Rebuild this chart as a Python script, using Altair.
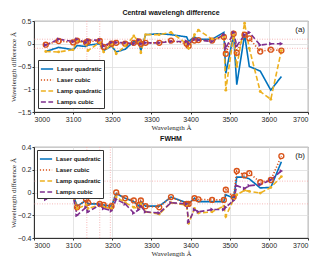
import altair as alt
import pandas as pd

# ---------------- data ----------------
wavelength = [3030, 3063, 3100, 3110, 3133, 3138, 3168, 3178, 3198, 3210, 3233, 3255, 3268, 3273, 3285,
              3320, 3350, 3390, 3395, 3410, 3420, 3455, 3485, 3490, 3510, 3518, 3538, 3550, 3578, 3605, 3632]
series_names = ["Laser quadratic", "Laser cubic", "Lamp quadratic", "Lamps cubic"]

# panel (a): central wavelength difference
a_laser_quadratic = [-0.17, -0.08, -0.13, -0.04, -0.06, -0.03, 0.0, -0.15, -0.05, -0.18, -0.12, 0.05, 0.0, -0.15, 0.2,
                     0.22, 0.2, 0.15, 0.05, 0.15, 0.1, 0.1, 0.25, -0.65, 0.2, -0.9, 0.2, -0.5, -0.6, -1.02, -0.72]
a_laser_cubic = [-0.02, 0.06, 0.03, 0.07, 0.03, 0.05, 0.06, -0.07, 0.0, 0.02, 0.0, 0.02, 0.05, 0.0, 0.02,
                 0.02, 0.07, 0.0, -0.05, 0.07, 0.08, 0.07, 0.15, -0.22, 0.22, -0.2, 0.2, 0.12, -0.17, -0.13, -0.15]
a_lamp_quadratic = [-0.17, -0.18, -0.13, 0.07, 0.0, -0.15, 0.03, -0.18, 0.0, -0.22, -0.05, 0.17, 0.05, -0.2, 0.2,
                    0.2, 0.25, 0.0, -0.1, 0.2, 0.3, 0.1, 0.15, -1.02, 0.2, -0.5, 0.45, -0.1, -1.05, -1.22, -0.15]
a_lamps_cubic = [-0.03, 0.1, 0.05, 0.1, 0.02, 0.08, 0.08, -0.05, 0.03, 0.03, 0.02, 0.0, 0.08, 0.0, 0.02,
                 0.02, 0.05, 0.05, 0.0, 0.1, 0.08, 0.05, 0.2, -0.1, 0.25, -0.05, 0.2, 0.25, -0.03, 0.0, 0.0]

# panel (b): FWHM difference
b_laser_quadratic = [-0.03, 0.01, -0.02, -0.12, -0.07, -0.10, -0.10, -0.11, -0.12, -0.01, -0.05, -0.08, -0.12, -0.08, -0.12,
                     -0.12, -0.04, -0.09, -0.10, -0.05, -0.08, -0.08, -0.08, -0.02, -0.05, 0.135, 0.135, 0.12, 0.04, 0.045, 0.27]
b_laser_cubic = [-0.03, 0.01, -0.02, -0.13, -0.06, -0.09, -0.10, -0.11, -0.12, 0.0, -0.05, -0.07, -0.11, -0.07, -0.12,
                 -0.13, -0.04, -0.10, -0.10, -0.05, -0.06, -0.065, -0.065, 0.025, -0.04, 0.19, 0.15, 0.17, 0.09, 0.11, 0.32]
b_lamp_quadratic = [-0.03, 0.03, -0.03, -0.14, -0.11, -0.14, -0.11, -0.13, -0.14, -0.04, -0.09, -0.13, -0.14, -0.10, -0.17,
                    -0.19, -0.09, -0.11, -0.27, -0.14, -0.18, -0.17, -0.12, -0.21, -0.06, -0.02, 0.02, 0.01, -0.005, 0.045, 0.14]
b_lamps_cubic = [-0.06, 0.04, -0.03, -0.20, -0.13, -0.17, -0.11, -0.14, -0.16, -0.06, -0.10, -0.18, -0.15, -0.12, -0.17,
                 -0.18, -0.09, -0.10, -0.26, -0.15, -0.17, -0.15, -0.15, -0.13, -0.07, 0.06, 0.035, 0.06, 0.07, 0.11, 0.19]

ref_y = [-0.1, 0.1]
ref_x_a = [3135, 3168]
ref_x_b = [3135, 3168, 3195]
x_ticks = [3000, 3100, 3200, 3300, 3400, 3500, 3600, 3700]
y_ticks_a = [-1.5, -1.0, -0.5, 0.0, 0.5]
y_ticks_b = [-0.4, -0.2, 0.0, 0.2, 0.4]

# ---------------- styles ----------------
colors = ["#0072BD", "#D95319", "#EDB120", "#7E2F8E"]
dashes = [[1, 0], [1.2, 1.8], [5, 2.5], [5, 2.5]]
pink = "#F4A6A6"
W, H = 274, 91


def make_df(arrays):
    rows = []
    for name, vals in zip(series_names, arrays):
        for w, v in zip(wavelength, vals):
            rows.append({"wl": w, "val": v, "series": name})
    return pd.DataFrame(rows)


def panel(df, title, ydomain, yticks, tag, legend_orient, legend_offset, vlines):
    xenc = alt.X("wl:Q", scale=alt.Scale(domain=[3000, 3700], nice=False),
                 axis=alt.Axis(values=x_ticks, title="Wavelength Å", format="d"))
    yenc = alt.Y("val:Q", scale=alt.Scale(domain=ydomain, nice=False),
                 axis=alt.Axis(values=yticks, title="Wavelength  difference Å", format="~g"))
    leg = alt.Legend(title=None, orient=legend_orient, offset=legend_offset)
    hrule = alt.Chart(pd.DataFrame({"val": ref_y})).mark_rule(
        color=pink, strokeDash=[1, 1.5], strokeWidth=0.8).encode(y=yenc)
    vrule = alt.Chart(pd.DataFrame({"wl": vlines})).mark_rule(
        color=pink, strokeDash=[1, 1.5], strokeWidth=0.8).encode(x=xenc)
    base = alt.Chart(df)
    lines = base.mark_line(strokeWidth=1.6).encode(
        x=xenc, y=yenc,
        color=alt.Color("series:N", scale=alt.Scale(domain=series_names, range=colors), legend=leg),
        strokeDash=alt.StrokeDash("series:N", scale=alt.Scale(domain=series_names, range=dashes), legend=leg),
    )
    p_orange = base.transform_filter(alt.datum.series == "Laser cubic").mark_point(
        shape="circle", filled=False, size=24, strokeWidth=1.4, color=colors[1], opacity=1).encode(x=xenc, y=yenc)
    p_yellow = base.transform_filter(alt.datum.series == "Lamp quadratic").mark_point(
        shape="circle", filled=True, size=8, color=colors[2], opacity=1).encode(x=xenc, y=yenc)
    p_purple = base.transform_filter(alt.datum.series == "Lamps cubic").mark_point(
        shape="triangle-right", filled=True, size=16, color=colors[3], opacity=1).encode(x=xenc, y=yenc)
    label = alt.Chart(pd.DataFrame({"t": [tag]})).mark_text(
        fontSize=8, font="Liberation Sans", align="right", baseline="middle", color="#222").encode(
        text="t:N", x=alt.value(W - 3), y=alt.value(9))
    return alt.layer(vrule, hrule, lines, p_orange, p_yellow, p_purple, label).properties(
        width=W, height=H, title=title)


panel_a = panel(make_df([a_laser_quadratic, a_laser_cubic, a_lamp_quadratic, a_lamps_cubic]),
                "Central wavelengh difference", [-1.5, 0.5], y_ticks_a, "(a)", "bottom-left", 4, ref_x_a)
panel_b = panel(make_df([b_laser_quadratic, b_laser_cubic, b_lamp_quadratic, b_lamps_cubic]),
                "FWHM", [-0.4, 0.4], y_ticks_b, "(b)", "top-left", 3, ref_x_b)

chart = alt.vconcat(panel_a, panel_b, spacing=3).resolve_scale(
    y="independent", color="independent", strokeDash="independent"
).resolve_legend(color="independent", strokeDash="independent").properties(
    padding={"left": 0, "top": 0, "right": 1, "bottom": 0}
).configure_axis(
    labelFontSize=7, titleFontSize=7, labelFont="Liberation Sans", titleFont="Liberation Serif",
    titleFontWeight="normal", gridColor="#dedede", gridWidth=0.8, domainColor="#333333",
    tickColor="#333333", labelColor="#262626", titleColor="#262626", tickSize=2,
    labelPadding=1, titlePadding=1
).configure_view(stroke="#333333", strokeWidth=0.8).configure_title(
    fontSize=7, font="Liberation Sans", fontWeight="bold", offset=1, anchor="middle", color="#111111"
).configure_legend(
    labelFontSize=6, labelFont="Liberation Sans", labelFontWeight="bold", labelColor="#111111",
    symbolType="stroke", symbolSize=150, symbolStrokeWidth=1.6, rowPadding=0, padding=2,
    fillColor="white", strokeColor="#333333", labelOffset=3, symbolOffset=0
)

chart.save("out.html", embed_options={"renderer": "svg", "actions": False})
